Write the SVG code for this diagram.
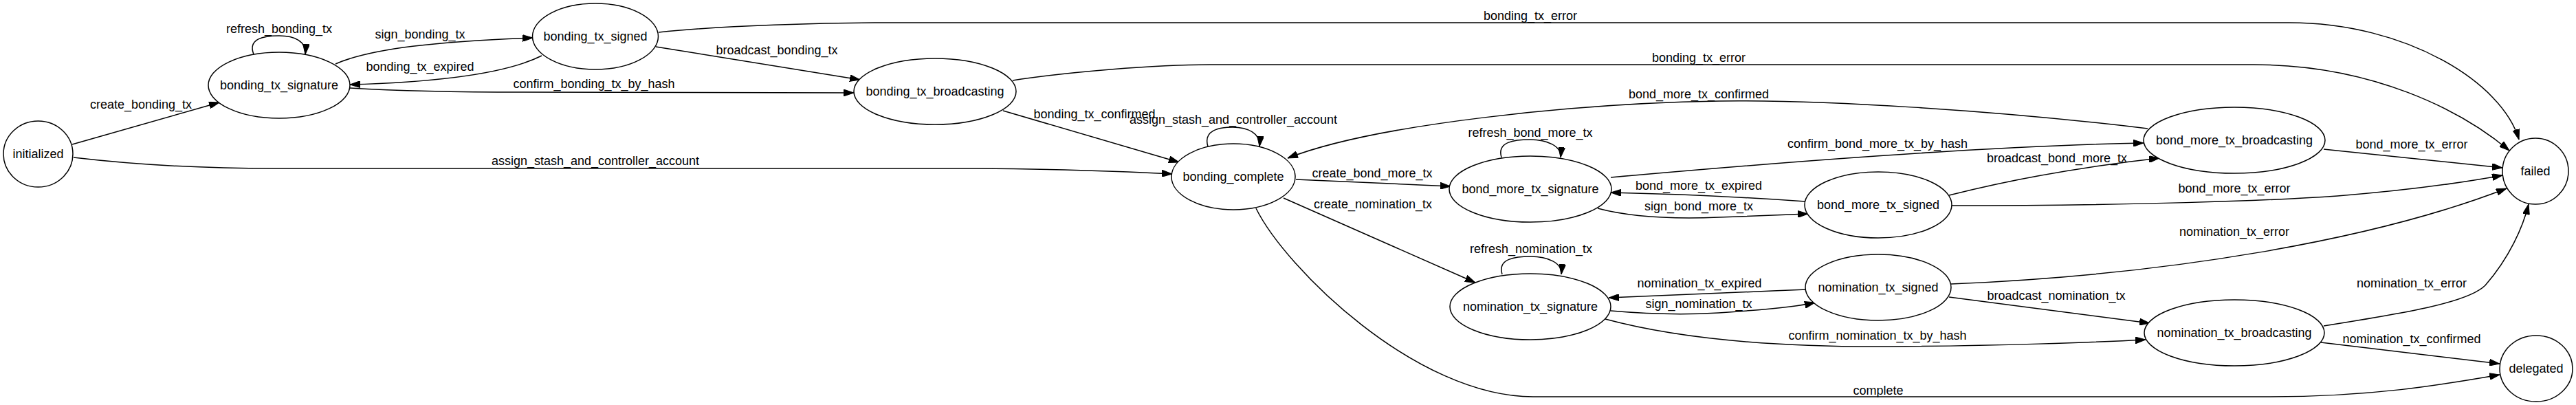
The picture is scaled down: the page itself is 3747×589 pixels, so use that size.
<svg xmlns="http://www.w3.org/2000/svg" width="3747" height="589" viewBox="0 0 3747 589">
<style>
.n ellipse{fill:#fff;stroke:#000;stroke-width:1.5}
text{font-family:"Liberation Sans",Arial,sans-serif;font-size:18px;fill:#000;text-anchor:middle}
.e path{fill:none;stroke:#000;stroke-width:1.5;marker-end:url(#ah)}
</style>
<defs>
<marker id="ah" viewBox="0 0 15 10" refX="15" refY="5" markerWidth="15" markerHeight="10" markerUnits="userSpaceOnUse" orient="auto">
<path d="M0,0 L15,5 L0,10 z" fill="#000" stroke="#000" stroke-width="1"/>
</marker>
</defs>
<rect width="3747" height="589" fill="#fff"/>
<g id="connectors" class="e">
<path d="M105,210 L319,149"/>
<path d="M369,79 C360,56 384,52 406,52 C428,52 446,60 444,79"/>
<path d="M488,93 C540,70 640,60 775,55"/>
<path d="M788,81 C730,110 620,120 509,123"/>
<path d="M509,128 C560,131 650,134 760,134 L1242,135"/>
<path d="M954,68 L1251,116"/>
<path d="M958,47 C1050,37 1200,33 1300,33 L3330,33 C3500,33 3640,120 3664,203"/>
<path d="M1473,117 C1550,105 1680,94 1760,94 L3278,94 C3450,94 3580,160 3650,219"/>
<path d="M1459,161 L1715,236"/>
<path d="M107,229 C200,240 300,245 400,245 L1420,245 C1550,246 1650,250 1705,253"/>
<path d="M1757,213 C1750,190 1772,185 1793,185 C1815,185 1834,194 1832,213"/>
<path d="M3124,187 C2900,160 2650,145 2500,147 C2300,150 2000,180 1873,230"/>
<path d="M1885,261 L2110,271"/>
<path d="M1867,288 L2146,411"/>
<path d="M1827,303 C1870,390 2060,577 2230,577 L3300,577 C3450,577 3550,560 3636,545"/>
<path d="M2184,229 C2177,206 2203,203 2226,203 C2249,203 2272,212 2270,229"/>
<path d="M2185,399 C2178,376 2204,373 2227,373 C2250,373 2273,382 2271,399"/>
<path d="M2343,258 C2600,235 2900,212 3118,208"/>
<path d="M2835,284 C2950,255 3050,240 3141,230"/>
<path d="M2626,293 C2530,286 2430,282 2343,280"/>
<path d="M2324,303 C2380,318 2450,318 2500,316 C2560,314 2600,312 2630,311"/>
<path d="M3380,217 L3640,244"/>
<path d="M2838,299 C3100,299 3300,292 3400,285 C3500,277 3580,266 3640,255"/>
<path d="M2838,413 C3150,400 3450,350 3646,274"/>
<path d="M2628,421 C2530,425 2430,430 2340,433"/>
<path d="M2343,452 C2400,457 2450,458 2500,455 C2560,451 2610,447 2640,440"/>
<path d="M2335,464 C2450,495 2600,505 2750,504 C2900,503 3050,498 3121,494"/>
<path d="M2835,432 L3127,470"/>
<path d="M3380,474 C3500,455 3590,440 3615,415 C3650,375 3670,330 3678,297"/>
<path d="M3376,498 L3636,529"/>
</g>
<g id="edge-labels">
<text x="205" y="158">create_bonding_tx</text>
<text x="406" y="48">refresh_bonding_tx</text>
<text x="611" y="56">sign_bonding_tx</text>
<text x="611" y="103">bonding_tx_expired</text>
<text x="864" y="128">confirm_bonding_tx_by_hash</text>
<text x="1130" y="79">broadcast_bonding_tx</text>
<text x="2226" y="29">bonding_tx_error</text>
<text x="2471" y="90">bonding_tx_error</text>
<text x="1592" y="172">bonding_tx_confirmed</text>
<text x="866" y="240">assign_stash_and_controller_account</text>
<text x="1794" y="180">assign_stash_and_controller_account</text>
<text x="2471" y="143">bond_more_tx_confirmed</text>
<text x="1996" y="258">create_bond_more_tx</text>
<text x="1997" y="303">create_nomination_tx</text>
<text x="2732" y="574">complete</text>
<text x="2226" y="199">refresh_bond_more_tx</text>
<text x="2227" y="368">refresh_nomination_tx</text>
<text x="2731" y="215">confirm_bond_more_tx_by_hash</text>
<text x="2992" y="236">broadcast_bond_more_tx</text>
<text x="2471" y="276">bond_more_tx_expired</text>
<text x="2471" y="306">sign_bond_more_tx</text>
<text x="3508" y="216">bond_more_tx_error</text>
<text x="3250" y="280">bond_more_tx_error</text>
<text x="3250" y="343">nomination_tx_error</text>
<text x="2472" y="418">nomination_tx_expired</text>
<text x="2471" y="448">sign_nomination_tx</text>
<text x="2731" y="494">confirm_nomination_tx_by_hash</text>
<text x="2991" y="436">broadcast_nomination_tx</text>
<text x="3508" y="418">nomination_tx_error</text>
<text x="3508" y="499">nomination_tx_confirmed</text>
</g>
<g id="initialized" class="n"><ellipse cx="55.5" cy="224" rx="50.5" ry="48"/><text x="55.5" y="230">initialized</text></g>
<g id="bonding_tx_signature" class="n"><ellipse cx="406" cy="124" rx="103" ry="48"/><text x="406" y="130">bonding_tx_signature</text></g>
<g id="bonding_tx_signed" class="n"><ellipse cx="866" cy="53" rx="91.5" ry="48"/><text x="866" y="59">bonding_tx_signed</text></g>
<g id="bonding_tx_broadcasting" class="n"><ellipse cx="1360" cy="133" rx="118" ry="48"/><text x="1360" y="139">bonding_tx_broadcasting</text></g>
<g id="bonding_complete" class="n"><ellipse cx="1794" cy="257" rx="90" ry="48"/><text x="1794" y="263">bonding_complete</text></g>
<g id="bond_more_tx_signature" class="n"><ellipse cx="2226" cy="275" rx="118" ry="48"/><text x="2226" y="281">bond_more_tx_signature</text></g>
<g id="nomination_tx_signature" class="n"><ellipse cx="2226" cy="446" rx="117" ry="48"/><text x="2226" y="452">nomination_tx_signature</text></g>
<g id="bond_more_tx_signed" class="n"><ellipse cx="2732" cy="298" rx="107" ry="48"/><text x="2732" y="304">bond_more_tx_signed</text></g>
<g id="nomination_tx_signed" class="n"><ellipse cx="2732" cy="418" rx="106" ry="48"/><text x="2732" y="424">nomination_tx_signed</text></g>
<g id="bond_more_tx_broadcasting" class="n"><ellipse cx="3250" cy="204" rx="132" ry="48"/><text x="3250" y="210">bond_more_tx_broadcasting</text></g>
<g id="nomination_tx_broadcasting" class="n"><ellipse cx="3250" cy="484" rx="131" ry="48"/><text x="3250" y="490">nomination_tx_broadcasting</text></g>
<g id="failed" class="n"><ellipse cx="3688" cy="249" rx="48" ry="48"/><text x="3688" y="255">failed</text></g>
<g id="delegated" class="n"><ellipse cx="3689" cy="536" rx="53" ry="48"/><text x="3689" y="542">delegated</text></g>
</svg>
